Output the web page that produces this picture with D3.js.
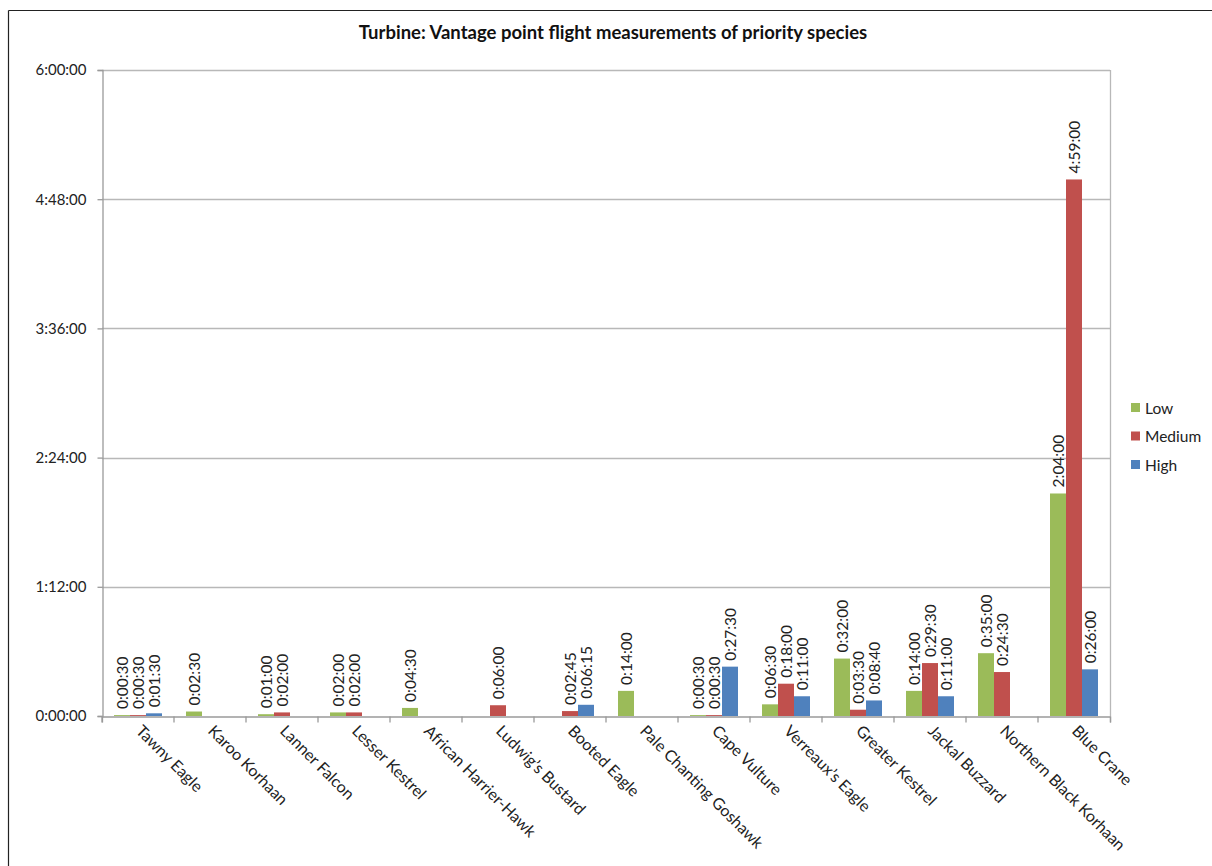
<!DOCTYPE html>
<html>
<head>
<meta charset="utf-8">
<script src="https://cdn.jsdelivr.net/npm/d3@7"></script>
<style>
  body { margin: 0; background: #fff; }
  svg { display: block; font-family: Lato, "Open Sans", sans-serif; }
</style>
</head>
<body>
<svg id="chart" width="1212" height="866"></svg>
<script>
// Species observed from the vantage point
const species = [
  "Tawny Eagle", "Karoo Korhaan", "Lanner Falcon", "Lesser Kestrel",
  "African Harrier-Hawk", "Ludwig\u2019s Bustard", "Booted Eagle",
  "Pale Chanting Goshawk", "Cape Vulture", "Verreaux\u2019s Eagle",
  "Greater Kestrel", "Jackal Buzzard", "Northern Black Korhaan", "Blue Crane"
];

// Flight time per height band, as h:mm:ss (null = not recorded)
const lowTimes = ["0:00:30", "0:02:30", "0:01:00", "0:02:00", "0:04:30", null, null,
  "0:14:00", "0:00:30", "0:06:30", "0:32:00", "0:14:00", "0:35:00", "2:04:00"];
const mediumTimes = ["0:00:30", null, "0:02:00", "0:02:00", null, "0:06:00", "0:02:45",
  null, "0:00:30", "0:18:00", "0:03:30", "0:29:30", "0:24:30", "4:59:00"];
const highTimes = ["0:01:30", null, null, null, null, null, "0:06:15",
  null, "0:27:30", "0:11:00", "0:08:40", "0:11:00", null, "0:26:00"];

const seriesNames = ["Low", "Medium", "High"];
const seriesColors = ["#9BBB59", "#C0504D", "#4F81BD"];

// Axis ticks (seconds) and their labels
const yTickSeconds = [0, 4320, 8640, 12960, 17280, 21600];
const yTickLabels = ["0:00:00", "1:12:00", "2:24:00", "3:36:00", "4:48:00", "6:00:00"];

const toSeconds = s => {
  const [h, m, sec] = s.split(":").map(Number);
  return h * 3600 + m * 60 + sec;
};

const seriesTimes = [lowTimes, mediumTimes, highTimes];

const svg = d3.select("#chart");

// Chart frame
svg.append("line").attr("x1", 8.5).attr("x2", 1212).attr("y1", 10.5).attr("y2", 10.5)
  .attr("stroke", "#222").attr("stroke-width", 1.2);
svg.append("line").attr("x1", 8.5).attr("x2", 8.5).attr("y1", 10.5).attr("y2", 866)
  .attr("stroke", "#222").attr("stroke-width", 1.2);

const plot = { left: 102, right: 1110, top: 70, bottom: 716 };

const x = d3.scaleBand().domain(species).range([plot.left, plot.right]).padding(0);
const barW = x.bandwidth() / 4.5;
const xInner = d3.scaleBand().domain(seriesNames)
  .range([0.75 * barW, 3.75 * barW]).padding(0);

const y = d3.scaleLinear().domain([0, 21600]).range([plot.bottom, plot.top]);

// Gridlines
svg.append("g").selectAll("line").data(yTickSeconds.slice(1)).join("line")
  .attr("x1", plot.left).attr("x2", plot.right)
  .attr("y1", d => Math.round(y(d)) + 0.5).attr("y2", d => Math.round(y(d)) + 0.5)
  .attr("stroke", "#b8b8b8").attr("stroke-width", 1.3);

// Right border of plot area
svg.append("line").attr("x1", plot.right + 0.5).attr("x2", plot.right + 0.5)
  .attr("y1", plot.top).attr("y2", plot.bottom)
  .attr("stroke", "#b8b8b8").attr("stroke-width", 1.3);

// Y axis
const yAxis = d3.axisLeft(y).tickValues(yTickSeconds)
  .tickFormat((d, i) => yTickLabels[i]).tickSize(5).tickPadding(11);
const gy = svg.append("g").attr("transform", `translate(${plot.left + 0.5},0)`).call(yAxis);
gy.select(".domain").attr("stroke", "#9a9a9a").attr("stroke-width", 1.3);
gy.selectAll(".tick line").attr("stroke", "#9a9a9a").attr("stroke-width", 1.3);
gy.selectAll(".tick text").attr("font-size", 15).attr("fill", "#222")
  .attr("font-family", "Lato, 'Open Sans', sans-serif");

// Bars
const barData = [];
species.forEach((sp, i) => {
  seriesNames.forEach((name, k) => {
    const t = seriesTimes[k][i];
    if (t !== null) barData.push({ sp, name, k, t, v: toSeconds(t) });
  });
});

svg.append("g").selectAll("rect").data(barData).join("rect")
  .attr("x", d => x(d.sp) + xInner(d.name))
  .attr("width", xInner.bandwidth())
  .attr("y", d => y(d.v))
  .attr("height", d => y(0) - y(d.v))
  .attr("fill", d => seriesColors[d.k]);

// Value labels
svg.append("g").selectAll("text").data(barData).join("text")
  .attr("transform", d => {
    const cx = x(d.sp) + xInner(d.name) + xInner.bandwidth() / 2;
    return `translate(${cx + 5.5},${y(d.v) - 6}) rotate(-90)`;
  })
  .attr("font-size", 15.5).attr("fill", "#222")
  .text(d => d.t);

// X axis
const xAxis = d3.axisBottom(x).tickSize(6).tickFormat("");
const gx = svg.append("g").attr("transform", `translate(0,${plot.bottom + 0.5})`).call(xAxis);
gx.select(".domain").attr("stroke", "#9a9a9a").attr("stroke-width", 1.3);
gx.selectAll(".tick line")
  .attr("transform", `translate(${-x.bandwidth() / 2},0)`)
  .attr("stroke", "#9a9a9a").attr("stroke-width", 1.3);
gx.append("line").attr("x1", plot.right + 0.5).attr("x2", plot.right + 0.5)
  .attr("y1", 0).attr("y2", 6).attr("stroke", "#9a9a9a").attr("stroke-width", 1.3);

// Category labels
svg.append("g").selectAll("text").data(species).join("text")
  .attr("transform", d => `translate(${x(d) + x.bandwidth() / 2 - 3},${plot.bottom + 16}) rotate(45)`)
  .attr("font-size", 16).attr("fill", "#222")
  .text(d => d);

// Title
svg.append("text").attr("x", 613).attr("y", 39).attr("text-anchor", "middle")
  .attr("font-size", 18.5).attr("font-weight", "bold").attr("fill", "#111")
  .text("Turbine: Vantage point flight measurements of priority species");

// Legend
const legend = svg.append("g").selectAll("g").data(seriesNames).join("g")
  .attr("transform", (d, i) => `translate(1131,${408 + i * 28.5})`);
legend.append("rect").attr("x", 0).attr("y", -5).attr("width", 9).attr("height", 9)
  .attr("fill", (d, i) => seriesColors[i]);
legend.append("text").attr("x", 14).attr("y", 5.5).attr("font-size", 15.5)
  .attr("fill", "#222").text(d => d);
</script>
</body>
</html>
